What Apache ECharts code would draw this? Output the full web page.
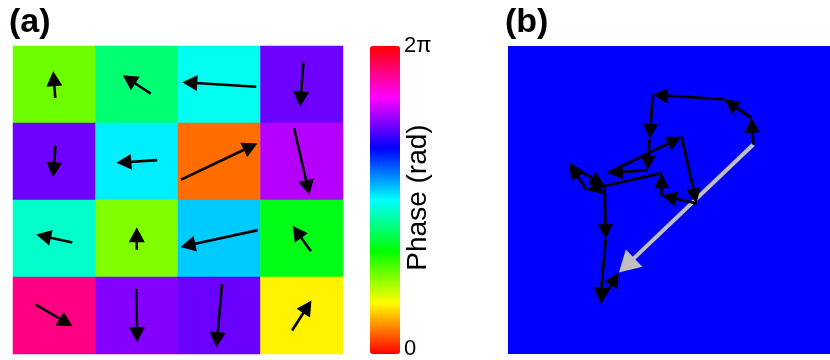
<!DOCTYPE html>
<html>
<head>
<meta charset="utf-8">
<script src="https://cdn.jsdelivr.net/npm/echarts@6/dist/echarts.min.js"></script>
<style>
  html, body { margin: 0; padding: 0; background: #ffffff; }
  #chart { width: 830px; height: 360px; }
</style>
</head>
<body>
<div id="chart"></div>
<script>
// 4 x 4 array of phasors, listed row by row starting at the top-left cell
const colLabels = ['1', '2', '3', '4'];
const rowLabels = ['1', '2', '3', '4'];

// phase of each element (rad)
const phase = [
  1.646, 2.562, 3.079, 4.637,
  4.639, 3.208, 0.442, 4.938,
  2.923, 1.571, 3.355, 2.190,
  5.749, 4.732, 4.623, 0.998
];

// amplitude of each element (one unit = one cell width)
const amplitude = [
  0.325, 0.405, 0.898, 0.535,
  0.381, 0.495, 1.023, 0.829,
  0.447, 0.270, 0.959, 0.382,
  0.516, 0.646, 0.771, 0.433
];

// colour bar tick labels (bottom, top)
const phaseTicks = ['0', '2\u03c0'];

const TWO_PI = 2 * Math.PI;
const FONT = '"Liberation Sans", Arial, Helvetica, sans-serif';
const hsvStops = ['#ff0000', '#ffff00', '#00ff00', '#00ffff', '#0000ff', '#ff00ff', '#ff0000'];

// cells for the heat map and arrows for the quiver overlay
const cellData = [];
const quiverData = [];
phase.forEach(function (p, i) {
  const c = i % 4, r = Math.floor(i / 4);
  cellData.push([c, r, p]);
  quiverData.push([c, r, amplitude[i], p]);
});

// phasors placed head to tail, plus the resulting sum
const chainData = [];
let sx = 0, sy = 0;
phase.forEach(function (p, i) {
  const nx = sx + amplitude[i] * Math.cos(p);
  const ny = sy + amplitude[i] * Math.sin(p);
  chainData.push([sx, sy, nx, ny]);
  sx = nx; sy = ny;
});
const resultData = [[0, 0, sx, sy]];

// a straight arrow with a filled triangular head, in pixel coordinates
function arrow(x0, y0, x1, y1, headLen, headW, lw, color) {
  const dx = x1 - x0, dy = y1 - y0;
  const L = Math.hypot(dx, dy) || 1;
  const ux = dx / L, uy = dy / L;
  const px = -uy, py = ux;
  const bx = x1 - ux * headLen, by = y1 - uy * headLen;
  const shaftEnd = Math.min(headLen * 0.6, L);
  return {
    type: 'group',
    children: [
      {
        type: 'line',
        shape: { x1: x0, y1: y0, x2: x1 - ux * shaftEnd, y2: y1 - uy * shaftEnd },
        style: { stroke: color, lineWidth: lw, lineCap: 'butt' }
      },
      {
        type: 'polygon',
        shape: { points: [[x1, y1], [bx + px * headW / 2, by + py * headW / 2], [bx - px * headW / 2, by - py * headW / 2]] },
        style: { fill: color, stroke: null }
      }
    ]
  };
}

function renderQuiver(params, api) {
  const ctr = api.coord([api.value(0), api.value(1)]);
  const cellW = api.size([1, 1])[0];
  const len = api.value(2) * cellW;
  const p = api.value(3);
  const vx = len * Math.cos(p), vy = -len * Math.sin(p);
  return arrow(ctr[0] - vx / 2, ctr[1] - vy / 2, ctr[0] + vx / 2, ctr[1] + vy / 2, 15, 16, 2.6, '#000000');
}

function renderChain(params, api) {
  const a = api.coord([api.value(0), api.value(1)]);
  const b = api.coord([api.value(2), api.value(3)]);
  return arrow(a[0], a[1], b[0], b[1], 15, 15, 2.8, '#000000');
}

function renderResult(params, api) {
  const a = api.coord([api.value(0), api.value(1)]);
  const b = api.coord([api.value(2), api.value(3)]);
  return arrow(a[0], a[1], b[0], b[1], 21, 24, 4, '#c0c0c0');
}

const chart = echarts.init(document.getElementById('chart'), null, { renderer: 'canvas' });

chart.setOption({
  animation: false,
  backgroundColor: '#ffffff',
  textStyle: { fontFamily: FONT },
  grid: [
    { left: 13, top: 46, width: 330, height: 308, containLabel: false },
    { left: 508, top: 46, width: 322, height: 308, containLabel: false, show: true, backgroundColor: '#0000ff', borderWidth: 0 },
    { left: 370, top: 46, width: 30, height: 308, containLabel: false }
  ],
  xAxis: [
    { type: 'category', gridIndex: 0, data: colLabels, show: false },
    { type: 'value', gridIndex: 1, min: -3.074, max: 0.961, show: false },
    { type: 'category', gridIndex: 2, data: [''], show: false }
  ],
  yAxis: [
    { type: 'category', gridIndex: 0, data: rowLabels, inverse: true, show: false },
    { type: 'value', gridIndex: 1, min: -2.539, max: 1.194, show: false },
    {
      type: 'value', gridIndex: 2, position: 'right',
      min: 0, max: TWO_PI, interval: TWO_PI,
      axisLine: { show: false }, axisTick: { show: false }, splitLine: { show: false },
      axisLabel: {
        show: true, margin: 4, color: '#000000', fontSize: 22, fontFamily: FONT,
        showMinLabel: true, showMaxLabel: true,
        formatter: function (v) { return v < 1 ? phaseTicks[0] : phaseTicks[1]; }
      },
      name: 'Phase (rad)', nameLocation: 'middle', nameRotate: 90, nameGap: 4,
      nameMoveOverlap: false,
      nameTextStyle: { color: '#000000', fontSize: 28, fontFamily: FONT }
    }
  ],
  visualMap: {
    type: 'continuous', seriesIndex: 0, dimension: 2,
    min: 0, max: TWO_PI, orient: 'vertical',
    left: 370, top: 46, itemWidth: 30, itemHeight: 308, padding: 0,
    calculable: false, hoverLink: false,
    inRange: { color: hsvStops }
  },
  series: [
    {
      type: 'heatmap', xAxisIndex: 0, yAxisIndex: 0, data: cellData,
      itemStyle: { borderWidth: 0 }, emphasis: { disabled: true }
    },
    {
      type: 'custom', xAxisIndex: 0, yAxisIndex: 0, data: quiverData,
      renderItem: renderQuiver, z: 5, silent: true
    },
    {
      type: 'custom', xAxisIndex: 1, yAxisIndex: 1, data: resultData,
      renderItem: renderResult, z: 4, silent: true, clip: false
    },
    {
      type: 'custom', xAxisIndex: 1, yAxisIndex: 1, data: chainData,
      renderItem: renderChain, z: 5, silent: true, clip: false
    }
  ],
  graphic: [
    { type: 'text', left: 9, top: 6, style: { text: '(a)', font: 'bold 34px ' + FONT, fill: '#000000' } },
    { type: 'text', left: 505, top: 6, style: { text: '(b)', font: 'bold 34px ' + FONT, fill: '#000000' } }
  ]
});
</script>
</body>
</html>
